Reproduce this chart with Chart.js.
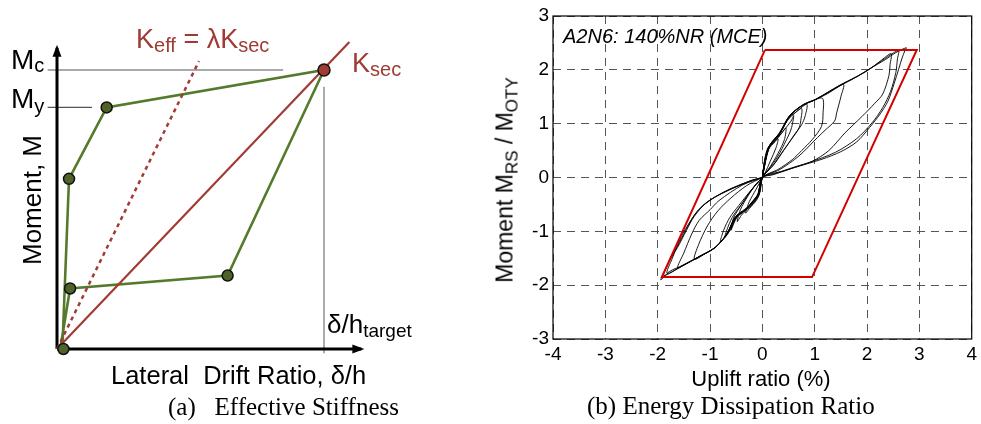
<!DOCTYPE html>
<html>
<head>
<meta charset="utf-8">
<script src="https://cdn.jsdelivr.net/npm/chart.js@4.4.1/dist/chart.umd.min.js"></script>
<style>
  html, body { margin: 0; padding: 0; background: #fff; }
  #wrap { position: relative; width: 981px; height: 424px; overflow: hidden; font-family: "Liberation Sans", Arial, sans-serif; }
  canvas { position: absolute; top: 0; }
  #left { left: 0; }
  #right { left: 480px; }
  .lbl { position: absolute; line-height: 1; white-space: pre; color: #000; }
  .red { color: #9e3b33; }
  .serif { font-family: "Liberation Serif", "Times New Roman", serif; }
  .lbl sub { line-height: 1; }
</style>
</head>
<body>
<div id="wrap">
  <canvas id="left" width="480" height="424"></canvas>
  <canvas id="right" width="501" height="424"></canvas>

  <!-- panel (a) labels -->
  <div class="lbl" style="left:11px; top:46px; font-size:28px;">M<sub style="font-size:20px; vertical-align:-3px;">c</sub></div>
  <div class="lbl" style="left:11px; top:85px; font-size:28px;">M<sub style="font-size:20px; vertical-align:-5px;">y</sub></div>
  <div class="lbl red" style="left:136px; top:26px; font-size:27px;">K<sub style="font-size:20px; vertical-align:-4px;">eff</sub> = λK<sub style="font-size:20px; vertical-align:-4px;">sec</sub></div>
  <div class="lbl red" style="left:352px; top:50px; font-size:27px;">K<sub style="font-size:20px; vertical-align:-4px;">sec</sub></div>
  <div class="lbl" style="left:327px; top:311px; font-size:26px;">δ/h<sub style="font-size:19px; vertical-align:-4px;">target</sub></div>
  <div class="lbl" style="left:32px; top:200px; font-size:26px; transform:translate(-50%,-50%) rotate(-90deg);">Moment, M</div>
  <div class="lbl" style="left:111px; top:363px; font-size:25.5px;">Lateral  Drift Ratio, δ/h</div>
  <div class="lbl serif" style="left:168px; top:394px; font-size:25px;">(a)   Effective Stiffness</div>

  <!-- panel (b) labels -->
  <div class="lbl" style="left:563px; top:26px; font-size:20px; font-style:italic;">A2N6: 140%NR (MCE)</div>
  <div class="lbl" style="left:507px; top:180px; font-size:23px; transform:translate(-50%,-50%) rotate(-90deg);">Moment M<sub style="font-size:17px; vertical-align:-5px;">RS</sub> / M<sub style="font-size:17px; vertical-align:-5px;">OTY</sub></div>
  <div class="lbl" style="left:761px; top:368px; font-size:22px; transform:translateX(-50%);">Uplift ratio (%)</div>
  <div class="lbl serif" style="left:587px; top:393px; font-size:25px;">(b) Energy Dissipation Ratio</div>
</div>

<script>
// ---------- panel (a): schematic, drift ratio normalised to target, moment to Mc ----------
const greenPath = [[0.02, 0], [0.045, 0.61], [0.186, 0.866], [1.0, 1.0], [0.639, 0.263], [0.049, 0.217], [0.012, 0]];
const greenDots = [[0.024, 0], [0.045, 0.61], [0.186, 0.866], [0.639, 0.263], [0.049, 0.217]];
const secantPoint = [[1.0, 1.0]];
const secantLine = [[0, 0], [1.095, 1.10]];
const effectiveLine = [[0, 0], [0.532, 1.032]];
const mcLine = [[-0.035, 1.0], [0.847, 1.0]];
const myLine = [[-0.035, 0.866], [0.131, 0.866]];
const targetLine = [[1.0, 0.94], [1.0, -0.015]];
const yAxisLine = [[0, 0], [0, 1.08]];
const xAxisLine = [[0, 0], [1.14, 0]];

// ---------- panel (b): rocking hysteresis, uplift ratio (%) vs M_RS/M_OTY ----------
const frameX = [0.05, 2.95, 0.95, -1.92, 0.05];
const frameY = [2.37, 2.37, -1.85, -1.85, 2.37];

const cycleA = [[0,0],[0.04,0.3],[0.1,0.5],[0.2,0.62],[0.3,0.72],[0.26,0.55],[0.15,0.3],[0.05,0.08],[0,0],
  [-0.05,-0.28],[-0.15,-0.45],[-0.25,-0.58],[-0.32,-0.66],[-0.25,-0.45],[-0.12,-0.22],[0,0]];
const cycleB = [[0,0],[0.05,0.32],[0.12,0.55],[0.25,0.68],[0.35,0.8],[0.45,0.92],[0.42,0.7],[0.3,0.45],[0.15,0.2],[0,0],
  [-0.06,-0.3],[-0.16,-0.45],[-0.3,-0.6],[-0.4,-0.7],[-0.48,-0.82],[-0.42,-0.6],[-0.28,-0.35],[-0.12,-0.12],[0,0]];
const cycleB2 = [[0,0],[0.05,0.36],[0.11,0.56],[0.22,0.66],[0.38,0.84],[0.55,1.05],[0.6,1.15],[0.55,0.9],[0.45,0.68],[0.3,0.4],[0.12,0.15],[0,0],
  [-0.06,-0.32],[-0.14,-0.46],[-0.28,-0.58],[-0.42,-0.66],[-0.52,-0.8],[-0.6,-0.98],[-0.55,-0.75],[-0.45,-0.58],[-0.3,-0.36],[-0.12,-0.13],[0,0]];
const cycleC = [[0,0],[0.06,0.35],[0.13,0.58],[0.32,0.8],[0.5,1.1],[0.62,1.2],[0.75,1.28],[0.74,1.1],[0.7,0.92],[0.55,0.7],[0.4,0.5],[0.2,0.22],[0,0],
  [-0.07,-0.3],[-0.18,-0.45],[-0.34,-0.62],[-0.5,-0.75],[-0.6,-0.95],[-0.72,-1.12],[-0.65,-0.9],[-0.55,-0.7],[-0.4,-0.5],[-0.2,-0.22],[0,0]];
const cycleC2 = [[0,0],[0.06,0.38],[0.14,0.6],[0.3,0.76],[0.48,1.06],[0.65,1.22],[0.85,1.36],[0.82,1.15],[0.75,0.98],[0.6,0.78],[0.42,0.52],[0.22,0.24],[0,0],
  [-0.07,-0.33],[-0.17,-0.46],[-0.35,-0.6],[-0.48,-0.7],[-0.62,-0.98],[-0.8,-1.2],[-0.74,-0.98],[-0.62,-0.74],[-0.45,-0.52],[-0.22,-0.24],[0,0]];
const cycleD = [[0,0],[0.07,0.38],[0.14,0.6],[0.32,0.82],[0.5,1.12],[0.7,1.3],[0.95,1.42],[1.15,1.47],[1.16,1.2],[1.13,0.95],[0.95,0.7],[0.75,0.5],[0.57,0.33],[0.3,0.15],[0,0],
  [-0.08,-0.3],[-0.18,-0.45],[-0.34,-0.62],[-0.52,-0.76],[-0.68,-1.05],[-0.9,-1.3],[-1.1,-1.42],[-1.3,-1.52],[-1.22,-1.25],[-1.05,-0.9],[-0.85,-0.62],[-0.6,-0.38],[-0.3,-0.15],[0,0]];
const cycleE = [[0,0],[0.08,0.4],[0.15,0.6],[0.33,0.82],[0.52,1.14],[0.75,1.33],[0.98,1.43],[1.25,1.56],[1.55,1.73],[1.5,1.5],[1.42,1.2],[1.38,1.05],[1.2,0.88],[1.05,0.74],[0.7,0.4],[0.32,0.14],[0,0],
  [-0.08,-0.32],[-0.17,-0.43],[-0.33,-0.61],[-0.52,-0.74],[-0.68,-1.05],[-0.9,-1.3],[-1.21,-1.47],[-1.45,-1.6],[-1.62,-1.68],[-1.5,-1.4],[-1.35,-1.05],[-1.21,-0.8],[-1.0,-0.6],[-0.83,-0.43],[-0.38,-0.14],[0,0]];
const cycleF = [[0,0],[0.08,0.4],[0.16,0.62],[0.34,0.83],[0.52,1.14],[0.78,1.35],[1.0,1.44],[1.46,1.7],[1.8,1.87],[2.03,2.0],[2.25,2.16],[2.46,2.3],[2.44,2.1],[2.42,1.9],[2.3,1.55],[2.15,1.38],[1.9,1.13],[1.58,0.83],[1.27,0.5],[0.95,0.3],[0.63,0.2],[0.2,0.06],[0,0],
  [-0.08,-0.3],[-0.16,-0.42],[-0.33,-0.6],[-0.51,-0.73],[-0.67,-1.04],[-0.89,-1.29],[-1.21,-1.47],[-1.52,-1.63],[-1.82,-1.78],[-1.72,-1.5],[-1.55,-1.1],[-1.4,-0.85],[-1.2,-0.58],[-0.9,-0.36],[-0.5,-0.17],[-0.2,-0.05],[0,0]];
const cycleG = [[0,0],[0.08,0.41],[0.16,0.63],[0.34,0.84],[0.52,1.15],[0.79,1.36],[1.01,1.45],[1.47,1.71],[1.81,1.88],[2.04,2.01],[2.3,2.18],[2.6,2.36],[2.58,2.2],[2.55,1.95],[2.45,1.6],[2.3,1.3],[2.1,1.02],[1.8,0.72],[1.4,0.47],[0.9,0.28],[0.4,0.12],[0,0],
  [-0.08,-0.31],[-0.17,-0.42],[-0.33,-0.6],[-0.52,-0.74],[-0.68,-1.05],[-0.9,-1.3],[-1.22,-1.48],[-1.52,-1.64],[-1.88,-1.82],[-1.8,-1.6],[-1.68,-1.38],[-1.5,-1.05],[-1.3,-0.7],[-1.05,-0.45],[-0.65,-0.24],[-0.25,-0.08],[0,0]];
const cycleH = [[0,0],[0.09,0.42],[0.17,0.63],[0.35,0.84],[0.53,1.15],[0.8,1.36],[1.02,1.45],[1.48,1.7],[1.82,1.88],[2.05,2.02],[2.35,2.19],[2.55,2.32],[2.75,2.41],[2.72,2.35],[2.67,2.22],[2.6,2.0],[2.52,1.75],[2.4,1.42],[2.25,1.18],[2.05,0.93],[1.8,0.66],[1.5,0.48],[1.14,0.34],[0.6,0.18],[0.2,0.05],[0,0],
  [-0.08,-0.3],[-0.16,-0.42],[-0.32,-0.6],[-0.51,-0.73],[-0.67,-1.04],[-0.89,-1.29],[-1.21,-1.47],[-1.52,-1.63],[-1.78,-1.75],[-1.94,-1.9],[-1.85,-1.7],[-1.75,-1.5],[-1.62,-1.3],[-1.45,-0.98],[-1.3,-0.72],[-1.08,-0.48],[-0.7,-0.25],[-0.25,-0.07],[0,0]];
const cycles = [cycleA, cycleB, cycleB2, cycleC, cycleC2, cycleD, cycleE, cycleF, cycleG, cycleH];

const xTicks = [-4, -3, -2, -1, 0, 1, 2, 3, 4];
const yTicks = [-3, -2, -1, 0, 1, 2, 3];

const toXY = arr => arr.map(p => ({ x: p[0], y: p[1] }));
const RED = '#a23b34';
const GREEN = '#547a2c';

// arrowheads on the schematic axes
const arrowPlugin = {
    id: 'arrows',
    afterDatasetsDraw(chart) {
        const { ctx, scales: { x, y } } = chart;
        const ox = x.getPixelForValue(0), oy = y.getPixelForValue(0);
        const ty = y.getPixelForValue(yAxisLine[1][1]);
        const tx = x.getPixelForValue(xAxisLine[1][0]);
        ctx.save();
        ctx.fillStyle = '#000';
        ctx.beginPath();
        ctx.moveTo(ox, ty - 3); ctx.lineTo(ox - 4.5, ty + 9); ctx.lineTo(ox + 4.5, ty + 9); ctx.closePath();
        ctx.fill();
        ctx.beginPath();
        ctx.moveTo(tx + 3, oy); ctx.lineTo(tx - 9, oy - 4.5); ctx.lineTo(tx - 9, oy + 4.5); ctx.closePath();
        ctx.fill();
        ctx.restore();
    }
};

const line = (data, color, width, order, extra) => Object.assign({
    data: toXY(data), showLine: true, borderColor: color, borderWidth: width,
    pointRadius: 0, fill: false, clip: false, order: order
}, extra || {});

new Chart(document.getElementById('left'), {
    type: 'scatter',
    data: {
        datasets: [
            { data: toXY(secantPoint), pointRadius: 6, pointBackgroundColor: RED, pointBorderColor: '#111', pointBorderWidth: 1.5, clip: false, order: 0 },
            { data: toXY(greenDots), pointRadius: 5.5, pointBackgroundColor: '#4e6229', pointBorderColor: '#111', pointBorderWidth: 1.5, clip: false, order: 1 },
            line(secantLine, RED, 2.2, 2),
            line(effectiveLine, RED, 2.5, 3, { borderDash: [4, 4] }),
            line(greenPath, GREEN, 2.6, 4),
            line(yAxisLine, '#000', 3, 5),
            line(xAxisLine, '#000', 3, 5),
            line(mcLine, '#555', 1.2, 6),
            line(myLine, '#555', 1.2, 6),
            line(targetLine, '#777', 1.2, 6)
        ]
    },
    options: {
        responsive: false, animation: false,
        layout: { padding: { left: 57, right: 102.6, top: 42.1, bottom: 75 } },
        plugins: { legend: { display: false }, tooltip: { enabled: false } },
        scales: {
            x: { type: 'linear', min: 0, max: 1.2, display: false },
            y: { type: 'linear', min: 0, max: 1.1, display: false }
        }
    },
    plugins: [arrowPlugin]
});

// solid box round the plot area, as in the original
const boxPlugin = {
    id: 'box',
    afterDraw(chart) {
        const { ctx, chartArea: a } = chart;
        ctx.save();
        ctx.strokeStyle = '#000';
        ctx.lineWidth = 1.2;
        ctx.strokeRect(a.left, a.top, a.right - a.left, a.bottom - a.top);
        ctx.restore();
    }
};

const tickFont = { family: '"Liberation Sans", Arial, sans-serif', size: 19 };

new Chart(document.getElementById('right'), {
    type: 'scatter',
    data: {
        datasets: [
            { data: frameX.map((v, i) => ({ x: v, y: frameY[i] })), showLine: true, borderColor: '#d40000', borderWidth: 2, pointRadius: 0, tension: 0, order: 0 }
        ].concat(cycles.map(c => ({
            data: toXY(c), showLine: true, borderColor: '#000', borderWidth: 0.9,
            pointRadius: 0, tension: 0.3, order: 1
        })))
    },
    options: {
        responsive: false, animation: false,
        layout: { padding: { left: 0, right: 7, top: 16, bottom: 0 } },
        plugins: { legend: { display: false }, tooltip: { enabled: false } },
        scales: {
            x: {
                type: 'linear', min: -4, max: 4,
                afterFit: s => { s.height = 85; },
                afterBuildTicks: s => { s.ticks = xTicks.map(v => ({ value: v })); },
                ticks: { color: '#000', font: tickFont, padding: 4, maxRotation: 0 },
                grid: { color: '#555', lineWidth: 1, drawTicks: false },
                border: { display: false, dash: [8, 6] }
            },
            y: {
                type: 'linear', min: -3, max: 3,
                afterFit: s => { s.width = 73; },
                afterBuildTicks: s => { s.ticks = yTicks.map(v => ({ value: v })); },
                ticks: { color: '#000', font: tickFont, padding: 4 },
                grid: { color: '#555', lineWidth: 1, drawTicks: false },
                border: { display: false, dash: [8, 6] }
            }
        }
    },
    plugins: [boxPlugin]
});
</script>
</body>
</html>
